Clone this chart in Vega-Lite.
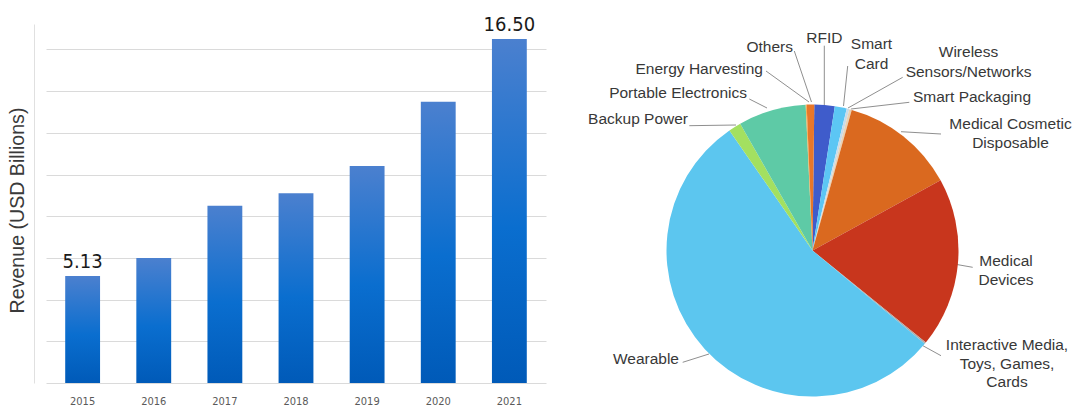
{
  "$schema": "https://vega.github.io/schema/vega-lite/v6.json",
  "background": "white",
  "padding": {"left": 7, "top": 15, "right": 0, "bottom": 0},
  "config": {"view": {"stroke": null}, "font": "Liberation Sans"},
  "datasets": {
    "revenue": [
      {"year": "2015", "revenue": 5.13},
      {"year": "2016", "revenue": 6.0},
      {"year": "2017", "revenue": 8.5},
      {"year": "2018", "revenue": 9.1},
      {"year": "2019", "revenue": 10.41},
      {"year": "2020", "revenue": 13.49},
      {"year": "2021", "revenue": 16.5}
    ],
    "segments": [
      {"segment": "RFID", "label": "RFID", "share": 2.25},
      {"segment": "Smart Card", "label": "Smart\nCard", "share": 1.33},
      {"segment": "Wireless Sensors/Networks", "label": "Wireless\nSensors/Networks", "share": 0.28},
      {"segment": "Smart Packaging", "label": "Smart Packaging", "share": 0.28},
      {"segment": "Medical Cosmetic Disposable", "label": "Medical Cosmetic\nDisposable", "share": 12.69},
      {"segment": "Medical Devices", "label": "Medical\nDevices", "share": 18.83},
      {"segment": "Interactive Media, Toys, Games, Cards", "label": "Interactive Media,\nToys, Games,\nCards", "share": 0.17},
      {"segment": "Wearable", "label": "Wearable", "share": 54.34},
      {"segment": "Backup Power", "label": "Backup Power", "share": 1.39},
      {"segment": "Portable Electronics", "label": "Portable Electronics", "share": 7.5},
      {"segment": "Energy Harvesting", "label": "Energy Harvesting", "share": 0.11},
      {"segment": "Others", "label": "Others", "share": 0.83}
    ]
  },
  "spacing": 10,
  "bounds": "flush",
  "hconcat": [
    {
      "width": 500,
      "height": 359,
      "data": {"name": "revenue"},
      "encoding": {
        "x": {
          "field": "year",
          "type": "nominal",
          "sort": null,
          "scale": {"paddingInner": 0.51, "paddingOuter": 0.27},
          "axis": {
            "title": null,
            "labelAngle": 0,
            "ticks": false,
            "domain": false,
            "grid": false,
            "labelFont": "Liberation Sans Narrow, DejaVu Sans Condensed, sans-serif",
            "labelFontSize": 11,
            "labelColor": "#5a5a5a",
            "labelPadding": 12
          }
        },
        "y": {
          "field": "revenue",
          "type": "quantitative",
          "scale": {"domain": [0, 17.22], "nice": false},
          "axis": {
            "title": "Revenue (USD Billions)",
            "values": [0, 2, 4, 6, 8, 10, 12, 14, 16],
            "labels": false,
            "ticks": false,
            "domain": true,
            "domainColor": "#e0e0e0",
            "offset": 12,
            "grid": true,
            "gridColor": "#dadada",
            "titleFont": "Liberation Sans",
            "titleFontSize": 19.6,
            "titleFontWeight": "normal",
            "titleColor": "#3a3a3a",
            "titlePadding": 7,
            "titleY": 186
          }
        }
      },
      "layer": [
        {
          "mark": {
            "type": "bar",
            "color": {
              "gradient": "linear",
              "x1": 0, "y1": 0, "x2": 0, "y2": 1,
              "stops": [
                {"offset": 0, "color": "#4b80cf"},
                {"offset": 0.55, "color": "#0a6ecf"},
                {"offset": 1, "color": "#005ab8"}
              ]
            }
          }
        },
        {
          "transform": [{"filter": "datum.year == '2015' || datum.year == '2021'"}],
          "mark": {
            "type": "text",
            "baseline": "alphabetic",
            "dy": -8,
            "font": "Liberation Sans Narrow, DejaVu Sans Condensed, sans-serif",
            "fontSize": 20,
            "color": "#1a1a1a"
          },
          "encoding": {"text": {"field": "revenue", "type": "quantitative", "format": ".2f"}}
        }
      ]
    },
    {
      "width": 513,
      "height": 453,
      "data": {"name": "segments"},
      "layer": [
        {"transform": [{"filter": "datum.segment == 'Others'"}], "mark": {"type": "rule", "color": "#8f8f8f", "strokeWidth": 1}, "encoding": {"x": {"value": 238.3}, "y": {"value": 27}, "x2": {"value": 255.5}, "y2": {"value": 78}}},
        {"transform": [{"filter": "datum.segment == 'Energy Harvesting'"}], "mark": {"type": "rule", "color": "#8f8f8f", "strokeWidth": 1}, "encoding": {"x": {"value": 210}, "y": {"value": 47}, "x2": {"value": 253}, "y2": {"value": 78}}},
        {"transform": [{"filter": "datum.segment == 'Portable Electronics'"}], "mark": {"type": "rule", "color": "#8f8f8f", "strokeWidth": 1}, "encoding": {"x": {"value": 193.3}, "y": {"value": 75}, "x2": {"value": 211}, "y2": {"value": 84}}},
        {"transform": [{"filter": "datum.segment == 'Backup Power'"}], "mark": {"type": "rule", "color": "#8f8f8f", "strokeWidth": 1}, "encoding": {"x": {"value": 133.3}, "y": {"value": 101.7}, "x2": {"value": 180}, "y2": {"value": 101}}},
        {"transform": [{"filter": "datum.segment == 'RFID'"}], "mark": {"type": "rule", "color": "#8f8f8f", "strokeWidth": 1}, "encoding": {"x": {"value": 268.3}, "y": {"value": 21.7}, "x2": {"value": 268.3}, "y2": {"value": 82}}},
        {"transform": [{"filter": "datum.segment == 'Smart Card'"}], "mark": {"type": "rule", "color": "#8f8f8f", "strokeWidth": 1}, "encoding": {"x": {"value": 291.7}, "y": {"value": 42}, "x2": {"value": 287.5}, "y2": {"value": 82}}},
        {"transform": [{"filter": "datum.segment == 'Wireless Sensors/Networks'"}], "mark": {"type": "rule", "color": "#8f8f8f", "strokeWidth": 1}, "encoding": {"x": {"value": 346.7}, "y": {"value": 53.3}, "x2": {"value": 292}, "y2": {"value": 84}}},
        {"transform": [{"filter": "datum.segment == 'Smart Packaging'"}], "mark": {"type": "rule", "color": "#8f8f8f", "strokeWidth": 1}, "encoding": {"x": {"value": 353.3}, "y": {"value": 78.3}, "x2": {"value": 295}, "y2": {"value": 85}}},
        {"transform": [{"filter": "datum.segment == 'Medical Cosmetic Disposable'"}], "mark": {"type": "rule", "color": "#8f8f8f", "strokeWidth": 1}, "encoding": {"x": {"value": 345}, "y": {"value": 107.7}, "x2": {"value": 385}, "y2": {"value": 110}}},
        {"transform": [{"filter": "datum.segment == 'Medical Devices'"}], "mark": {"type": "rule", "color": "#8f8f8f", "strokeWidth": 1}, "encoding": {"x": {"value": 398}, "y": {"value": 240}, "x2": {"value": 416.7}, "y2": {"value": 243.3}}},
        {"transform": [{"filter": "datum.segment == 'Interactive Media, Toys, Games, Cards'"}], "mark": {"type": "rule", "color": "#8f8f8f", "strokeWidth": 1}, "encoding": {"x": {"value": 362}, "y": {"value": 319}, "x2": {"value": 385}, "y2": {"value": 331.7}}},
        {"transform": [{"filter": "datum.segment == 'Wearable'"}], "mark": {"type": "rule", "color": "#8f8f8f", "strokeWidth": 1}, "encoding": {"x": {"value": 126.7}, "y": {"value": 338.3}, "x2": {"value": 153}, "y2": {"value": 330}}},
        {
          "transform": [{"window": [{"op": "row_number", "as": "seq"}]}],
          "mark": {"type": "arc", "radius": 146},
          "encoding": {
            "theta": {"field": "share", "type": "quantitative", "stack": true, "scale": {"range": [0.0122, 6.2954]}},
            "order": {"field": "seq", "type": "quantitative"},
            "color": {
              "field": "segment",
              "type": "nominal",
              "legend": null,
              "scale": {
                "domain": ["RFID", "Smart Card", "Wireless Sensors/Networks", "Smart Packaging", "Medical Cosmetic Disposable", "Medical Devices", "Interactive Media, Toys, Games, Cards", "Wearable", "Backup Power", "Portable Electronics", "Energy Harvesting", "Others"],
                "range": ["#3f5ccb", "#5cc6f4", "#c9dbe9", "#e9d2b4", "#da691f", "#c8361d", "#b0a9a6", "#5cc6ef", "#a3e060", "#5ecaa6", "#f0b050", "#e8772a"]
              }
            }
          }
        },
        {"transform": [{"filter": "datum.segment == 'Others'"}], "mark": {"type": "text", "x": 237, "y": 23.3, "align": "right", "baseline": "middle", "fontSize": 15.5, "color": "#383838"}, "encoding": {"text": {"field": "label"}}},
        {"transform": [{"filter": "datum.segment == 'RFID'"}], "mark": {"type": "text", "x": 268.4, "y": 13.5, "align": "center", "baseline": "middle", "fontSize": 15.5, "color": "#383838"}, "encoding": {"text": {"field": "label"}}},
        {"transform": [{"filter": "datum.segment == 'Smart Card'"}], "mark": {"type": "text", "x": 315.5, "y": 20, "align": "center", "baseline": "middle", "lineBreak": "\n", "lineHeight": 20, "fontSize": 15.5, "color": "#383838"}, "encoding": {"text": {"field": "label"}}},
        {"transform": [{"filter": "datum.segment == 'Wireless Sensors/Networks'"}], "mark": {"type": "text", "x": 412.5, "y": 28.3, "align": "center", "baseline": "middle", "lineBreak": "\n", "lineHeight": 20, "fontSize": 15.5, "color": "#383838"}, "encoding": {"text": {"field": "label"}}},
        {"transform": [{"filter": "datum.segment == 'Smart Packaging'"}], "mark": {"type": "text", "x": 416, "y": 72.7, "align": "center", "baseline": "middle", "fontSize": 15.5, "color": "#383838"}, "encoding": {"text": {"field": "label"}}},
        {"transform": [{"filter": "datum.segment == 'Medical Cosmetic Disposable'"}], "mark": {"type": "text", "x": 454.5, "y": 100, "align": "center", "baseline": "middle", "lineBreak": "\n", "lineHeight": 19, "fontSize": 15.5, "color": "#383838"}, "encoding": {"text": {"field": "label"}}},
        {"transform": [{"filter": "datum.segment == 'Medical Devices'"}], "mark": {"type": "text", "x": 450, "y": 236.7, "align": "center", "baseline": "middle", "lineBreak": "\n", "lineHeight": 19.3, "fontSize": 15.5, "color": "#383838"}, "encoding": {"text": {"field": "label"}}},
        {"transform": [{"filter": "datum.segment == 'Interactive Media, Toys, Games, Cards'"}], "mark": {"type": "text", "x": 451, "y": 321, "align": "center", "baseline": "middle", "lineBreak": "\n", "lineHeight": 18.7, "fontSize": 15.5, "color": "#383838"}, "encoding": {"text": {"field": "label"}}},
        {"transform": [{"filter": "datum.segment == 'Wearable'"}], "mark": {"type": "text", "x": 123, "y": 335, "align": "right", "baseline": "middle", "fontSize": 15.5, "color": "#383838"}, "encoding": {"text": {"field": "label"}}},
        {"transform": [{"filter": "datum.segment == 'Backup Power'"}], "mark": {"type": "text", "x": 132, "y": 95, "align": "right", "baseline": "middle", "fontSize": 15.5, "color": "#383838"}, "encoding": {"text": {"field": "label"}}},
        {"transform": [{"filter": "datum.segment == 'Portable Electronics'"}], "mark": {"type": "text", "x": 191, "y": 69.3, "align": "right", "baseline": "middle", "fontSize": 15.5, "color": "#383838"}, "encoding": {"text": {"field": "label"}}},
        {"transform": [{"filter": "datum.segment == 'Energy Harvesting'"}], "mark": {"type": "text", "x": 207, "y": 45, "align": "right", "baseline": "middle", "fontSize": 15.5, "color": "#383838"}, "encoding": {"text": {"field": "label"}}}
      ]
    }
  ]
}
